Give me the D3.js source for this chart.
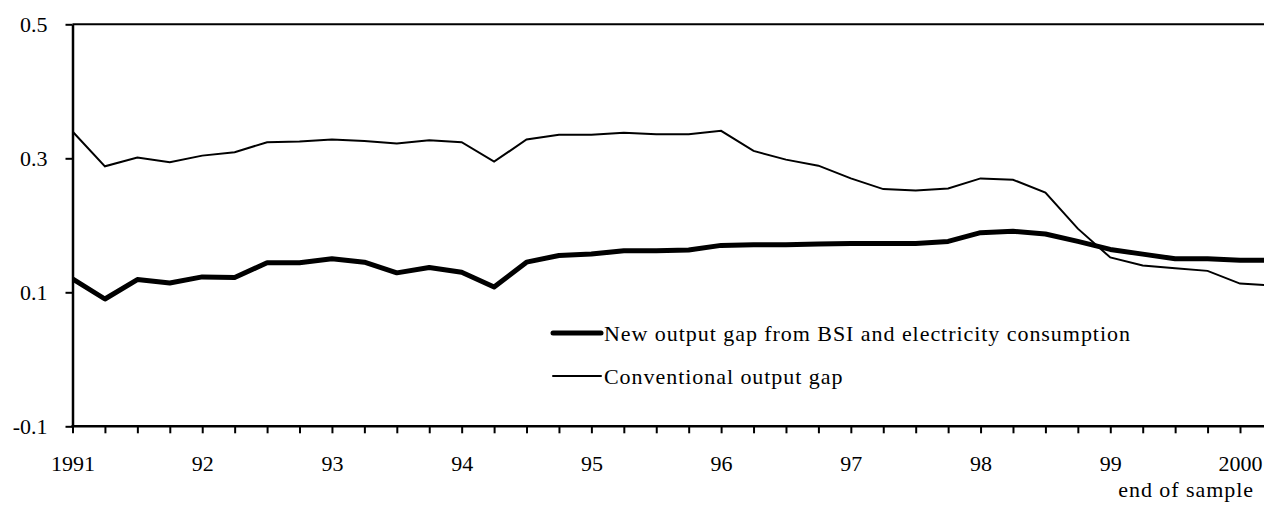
<!DOCTYPE html>
<html>
<head>
<meta charset="utf-8">
<script src="https://cdn.jsdelivr.net/npm/d3@7"></script>
<style>
  body { margin: 0; background: #fff; }
  svg { display: block; font-family: "Liberation Serif", "Times New Roman", serif; }
</style>
</head>
<body>
<svg id="chart" width="1264" height="505"></svg>
<script>
// quarterly observations, 1991Q1 .. 2000Q2
const quarters = [
  "1991Q1","1991Q2","1991Q3","1991Q4","1992Q1","1992Q2","1992Q3","1992Q4",
  "1993Q1","1993Q2","1993Q3","1993Q4","1994Q1","1994Q2","1994Q3","1994Q4",
  "1995Q1","1995Q2","1995Q3","1995Q4","1996Q1","1996Q2","1996Q3","1996Q4",
  "1997Q1","1997Q2","1997Q3","1997Q4","1998Q1","1998Q2","1998Q3","1998Q4",
  "1999Q1","1999Q2","1999Q3","1999Q4","2000Q1","2000Q2"
];

// new output gap from BSI and electricity consumption (thick line)
const newGap = [
  0.120, 0.090, 0.119, 0.114, 0.123, 0.122, 0.144, 0.144,
  0.150, 0.145, 0.129, 0.137, 0.130, 0.108, 0.145, 0.155,
  0.157, 0.162, 0.162, 0.163, 0.170, 0.171, 0.171, 0.172,
  0.173, 0.173, 0.173, 0.176, 0.189, 0.191, 0.187, 0.176,
  0.164, 0.157, 0.150, 0.150, 0.148, 0.148
];

// conventional output gap (thin line)
const convGap = [
  0.340, 0.288, 0.301, 0.294, 0.304, 0.309, 0.324, 0.325,
  0.328, 0.326, 0.322, 0.327, 0.324, 0.295, 0.328, 0.335,
  0.335, 0.338, 0.336, 0.336, 0.341, 0.311, 0.298, 0.289,
  0.270, 0.254, 0.252, 0.255, 0.270, 0.268, 0.249, 0.195,
  0.152, 0.140, 0.136, 0.132, 0.113, 0.110
];

const yearLabels = ["1991","92","93","94","95","96","97","98","99","2000"];
const yTicks = [-0.1, 0.1, 0.3, 0.5];

const width = 1264;
const height = 505;
const left = 72.5;
const fontSize = 22;
const wordSpacing = '0.95px'; // the words in the original run a bit wide

// quarter -> decimal year
const toYear = (q) => +q.slice(0, 4) + (+q.slice(5) - 1) / 4;

const x = d3.scaleLinear()
  .domain([1991, 2000])
  .range([left, 1240]);

const y = d3.scaleLinear()
  .domain([-0.1, 0.5])
  .range([426.3, 24.3]);

const svg = d3.select('#chart');

svg.append('clipPath').attr('id', 'plot')
  .append('rect')
  .attr('x', left).attr('y', 0)
  .attr('width', width - left).attr('height', height);

// top frame line at 0.5
svg.append('line')
  .attr('x1', left).attr('x2', width)
  .attr('y1', y(0.5)).attr('y2', y(0.5))
  .attr('stroke', '#000').attr('stroke-width', 2);

// y axis
const yAxis = d3.axisLeft(y)
  .tickValues(yTicks)
  .tickSize(7)
  .tickSizeOuter(0)
  .tickPadding(18)
  .tickFormat(d => d.toFixed(1));

const gy = svg.append('g')
  .attr('transform', `translate(${left},0)`)
  .call(yAxis);

// x axis: a tick every quarter, labels on the years
const tickTimes = quarters.slice(0, 37).map(toYear);
const xAxis = d3.axisBottom(x)
  .tickValues(tickTimes)
  .tickSize(7)
  .tickSizeOuter(0)
  .tickPadding(22)
  .tickFormat(d => Number.isInteger(d) ? yearLabels[d - 1991] : '');

const gx = svg.append('g')
  .attr('transform', `translate(0,${y(-0.1)})`)
  .call(xAxis);

// extend the bottom axis line to the edge
gx.select('.domain').remove();
gx.append('line')
  .attr('x1', left - 1).attr('x2', width)
  .attr('y1', 0).attr('y2', 0)
  .attr('stroke', '#000').attr('stroke-width', 2.5);

[gx, gy].forEach(g => {
  g.selectAll('.tick line').attr('stroke', '#000').attr('stroke-width', 2);
  g.selectAll('text')
    .attr('fill', '#000')
    .style('font-family', '"Liberation Serif", serif')
    .style('font-size', fontSize + 'px');
});
gy.select('.domain').attr('stroke-width', 2.5);

svg.append('text')
  .attr('x', 1254)
  .attr('y', 497)
  .attr('text-anchor', 'end')
  .style('font-size', fontSize + 'px')
  .style('letter-spacing', wordSpacing)
  .text('end of sample');

// series
const line = d3.line()
  .x((d, i) => x(toYear(quarters[i])))
  .y(d => y(d));

const plot = svg.append('g').attr('clip-path', 'url(#plot)');

plot.append('path')
  .attr('d', line(convGap))
  .attr('fill', 'none')
  .attr('stroke', '#000')
  .attr('stroke-width', 2);

plot.append('path')
  .attr('d', line(newGap))
  .attr('fill', 'none')
  .attr('stroke', '#000')
  .attr('stroke-width', 5)
  .attr('stroke-linejoin', 'round');

// legend
const legend = [
  { label: 'New output gap from BSI and electricity consumption', w: 5, yy: 333 },
  { label: 'Conventional output gap', w: 2, yy: 376 }
];

const lg = svg.append('g');
legend.forEach(l => {
  lg.append('line')
    .attr('x1', 553).attr('x2', 601)
    .attr('y1', l.yy).attr('y2', l.yy)
    .attr('stroke', '#000')
    .attr('stroke-width', l.w)
    .attr('stroke-linecap', 'round');
  lg.append('text')
    .attr('x', 604)
    .attr('y', l.yy + 8)
    .style('font-size', fontSize + 'px')
    .style('letter-spacing', wordSpacing)
    .text(l.label);
});
</script>
</body>
</html>
